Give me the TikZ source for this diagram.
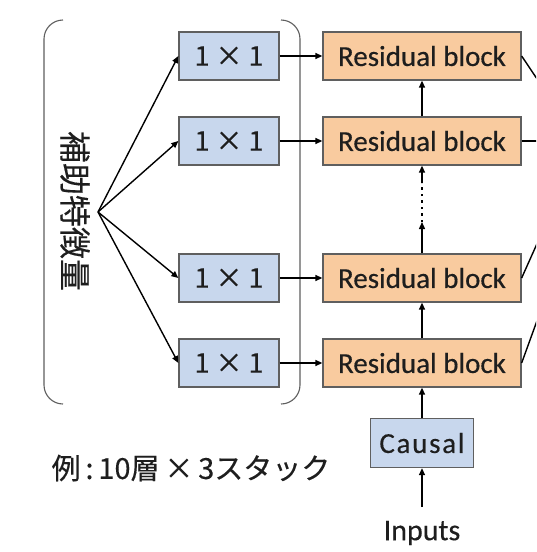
\documentclass[tikz,border=0pt]{standalone}
\usepackage{fontspec}
\setmainfont[FakeBold=0.4]{Carlito}
\newfontfamily\jpfont[FakeBold=0.3]{Noto Sans CJK JP}
\usetikzlibrary{arrows.meta}
\definecolor{boxblue}{HTML}{C8D7ED}
\definecolor{boxorange}{HTML}{F9CB9F}
\definecolor{edgegray}{HTML}{5F5F5F}
\definecolor{txt}{HTML}{1E1E1E}
\tikzset{
  blk/.style={draw=edgegray, line width=1.3pt, minimum height=48pt, inner sep=0pt, text=txt, font=\fontsize{29pt}{31pt}\selectfont},
  onebox/.style={blk, fill=boxblue, minimum width=100pt, font=\jpfont\fontsize{27pt}{29pt}\selectfont},
  resbox/.style={blk, fill=boxorange, minimum width=198pt},
  causalbox/.style={blk, fill=boxblue, minimum width=103pt, minimum height=49pt},
  arr/.style={line width=1.4pt, -{Triangle[length=7pt,width=6pt]}},
  plain/.style={line width=1.4pt},
  brk/.style={draw=edgegray, line width=1.1pt, rounded corners=19pt},
}
\begin{document}
\begin{tikzpicture}[x=1pt,y=-1pt]
\useasboundingbox (0,0) rectangle (536,552);
\clip (0,0) rectangle (536,552);
\fill[white] (0,0) rectangle (536,552);
% brackets
\draw[brk] (63,20) -- (44,20) -- (44,404) -- (63,404);
\draw[brk] (281,20) -- (300,20) -- (300,404) -- (281,404);
% vertical label
\node[rotate=-90, text=txt, font=\jpfont\fontsize{32pt}{34pt}\selectfont, inner sep=0pt] (lab) at (75,211) {補助特徴量};
\coordinate (fan) at (98,212);
% 1x1 boxes
\node[onebox] (o1) at (229,56) {1\kern6pt×\kern6pt1};
\node[onebox] (o2) at (229,141) {1\kern6pt×\kern6pt1};
\node[onebox] (o3) at (229,278) {1\kern6pt×\kern6pt1};
\node[onebox] (o4) at (229,363) {1\kern6pt×\kern6pt1};
% residual blocks
\node[resbox] (r1) at (422,56) {Residual block};
\node[resbox] (r2) at (422,141) {Residual block};
\node[resbox] (r3) at (422,278) {Residual block};
\node[resbox] (r4) at (422,363) {Residual block};
% causal & inputs
\node[causalbox] (c) at (422,443) {\addfontfeature{LetterSpace=6}Causal};
\node[text=txt, font=\fontsize{30pt}{32pt}\selectfont, inner sep=0pt] (in) at (422,533) {Inputs};
\node[text=txt, font=\jpfont\fontsize{29pt}{31pt}\selectfont, inner sep=0pt] (ex) at (191,468) {例\,:\,10層\,×\,3スタック};
% fan arrows
\foreach \n in {o1,o2,o3,o4} \draw[arr] (fan) -- (\n.west);
% horizontal arrows
\foreach \i in {1,2,3,4} \draw[arr] (o\i.east) -- (r\i.west);
% vertical chain
\coordinate (inTop) at (422,507);
\draw[arr] (inTop) -- (c.south);
\draw[arr] (c.north) -- (r4.south);
\draw[arr] (r4.north) -- (r3.south);
\coordinate (d1) at (422,222);
\coordinate (d2) at (422,183);
\draw[arr] (r3.north) -- (d1);
\draw[line width=2pt, dash pattern=on 2.5pt off 4pt] (d1) -- (d2);
\draw[arr] (d2) -- (r2.south);
\draw[arr] (r2.north) -- (r1.south);
% skip outputs leaving the frame
\coordinate (k1) at (570,128);
\coordinate (k2) at (570,141);
\coordinate (k3) at (570,170);
\coordinate (k4) at (570,230);
\draw[plain] (r1.east) -- (k1);
\draw[plain] (r2.east) -- (k2);
\draw[plain] (r3.east) -- (k3);
\draw[plain] (r4.east) -- (k4);
\end{tikzpicture}
\end{document}
